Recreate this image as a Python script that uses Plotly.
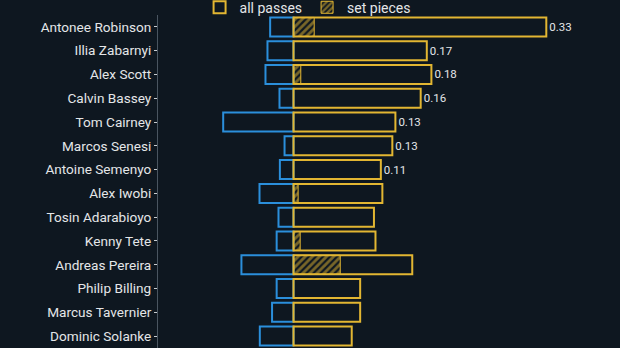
import plotly.graph_objects as go

players = ["Antonee Robinson", "Illia Zabarnyi", "Alex Scott", "Calvin Bassey", "Tom Cairney",
           "Marcos Senesi", "Antoine Semenyo", "Alex Iwobi", "Tosin Adarabioyo", "Kenny Tete",
           "Andreas Pereira", "Philip Billing", "Marcus Tavernier", "Dominic Solanke"]
all_passes = [0.330, 0.174, 0.180, 0.166, 0.133, 0.129, 0.114, 0.116, 0.105, 0.107,
              0.155, 0.087, 0.087, 0.076]
set_pieces = [0.027, 0.0, 0.0095, 0.0, 0.0, 0.0, 0.0, 0.006, 0.0, 0.0087,
              0.061, 0.0, 0.0, 0.0]
negative = [-0.0305, -0.034, -0.0366, -0.0183, -0.0918, -0.0117, -0.0178, -0.0444, -0.0196, -0.022,
            -0.068, -0.022, -0.028, -0.044]
value_labels = ["0.33", "0.17", "0.18", "0.16", "0.13", "0.13", "0.11", "", "", "", "", "", "", ""]

BG = "#0e1720"
BLUE = "#2b8fdb"
YELLOW = "#e2b632"
TXT = "#e4e6e8"

fig = go.Figure()
fig.add_trace(go.Bar(
    y=players, x=negative, orientation="h", width=0.8, showlegend=False,
    marker=dict(color="rgba(0,0,0,0)", line=dict(color=BLUE, width=2)),
    hoverinfo="skip",
))
fig.add_trace(go.Bar(
    y=players, x=all_passes, orientation="h", width=0.8, name="all passes",
    marker=dict(color="rgba(0,0,0,0)", line=dict(color=YELLOW, width=2)),
    text=value_labels, textposition="outside", cliponaxis=False,
    textfont=dict(color=TXT, size=11.5, family="Roboto"),
))
fig.add_trace(go.Bar(
    y=players, x=set_pieces, orientation="h", width=0.8, name="set pieces",
    marker=dict(color="rgba(0,0,0,0)", line=dict(color=YELLOW, width=1),
                pattern=dict(shape="/", fgcolor=YELLOW, bgcolor="rgba(0,0,0,0)", size=5, solidity=0.55)),
))

fig.update_layout(
    width=620, height=348,
    barmode="overlay",
    paper_bgcolor=BG, plot_bgcolor=BG,
    margin=dict(l=158, r=0, t=15, b=0, autoexpand=False),
    font=dict(family="Roboto", color=TXT, size=13.6),
    legend=dict(orientation="h", x=0.09, xanchor="left", y=1.022, yanchor="middle",
                font=dict(size=14, color=TXT), bgcolor="rgba(0,0,0,0)", itemwidth=30),
    xaxis=dict(range=[-0.1769, 0.4262], visible=False, zeroline=False, showgrid=False),
    yaxis=dict(autorange=False, range=[13.5, -0.5], showgrid=False, zeroline=False,
               showline=True, linecolor="#4a5560", linewidth=1,
               ticks="outside", ticklen=3, tickcolor="#c8ccd0", tickwidth=1,
               tickfont=dict(size=13.6, color=TXT), ticklabelstandoff=0),
)

fig.write_html("out.html")
